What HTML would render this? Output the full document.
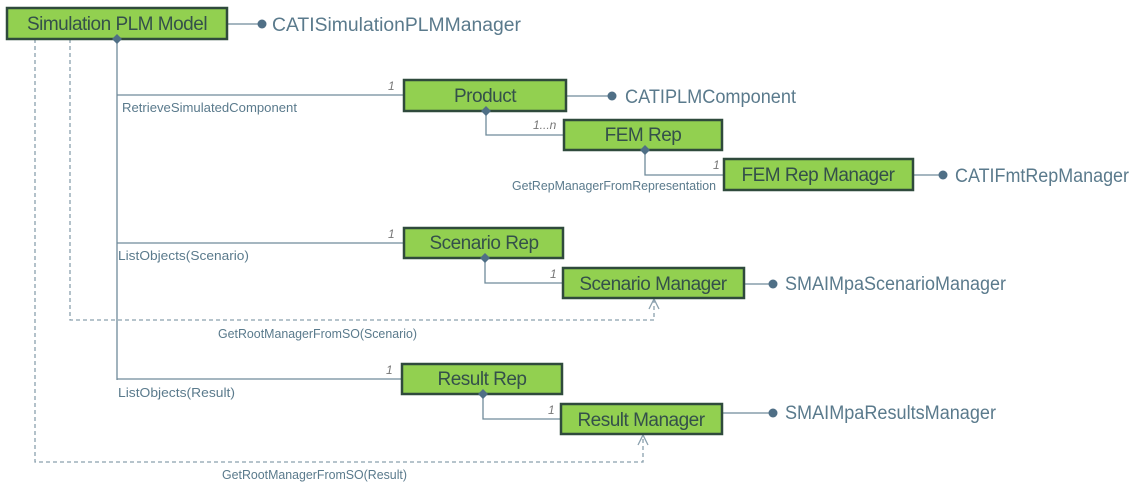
<!DOCTYPE html>
<html><head><meta charset="utf-8"><style>
html,body{margin:0;padding:0;background:#fff;}
svg{display:block;}
.b{fill:#92d050;stroke:#2f4a3c;stroke-width:2.5;}
.bt{font-family:"Liberation Sans",sans-serif;font-size:19px;fill:#34504a;text-anchor:middle;letter-spacing:-0.5px;}
.it{font-family:"Liberation Sans",sans-serif;font-size:19px;fill:#5a7a8c;}
.lt{font-family:"Liberation Sans",sans-serif;font-size:13px;fill:#5a7a8c;}
.m{font-family:"Liberation Sans",sans-serif;font-size:12px;fill:#777;font-style:italic;}
.l{stroke:#6f8a9a;stroke-width:1.3;fill:none;}
.d{stroke:#8aa0ae;stroke-width:1.3;fill:none;stroke-dasharray:4 3;}
.dm{fill:#4f6f86;}
.dot{fill:#4f6f86;}
</style></head><body>
<svg width="1138" height="493" viewBox="0 0 1138 493">
<path class="l" d="M117 39V380M117 95H404M117 243H404M117 379H402"/>
<path class="l" d="M486 111V135H564M645 150V175H724M485 258V283H563M483 394V419H561"/>
<path class="l" d="M227 24H260M566 96H610M913 175H941M744 284H770M722 413H770"/>
<path class="d" d="M70 39V320H654V300M35 39V462H643V436"/>
<path class="l" style="stroke:#8aa0ae" d="M649 309L654 299L659 309M638 445L643 435L648 445"/>
<circle class="dot" cx="262" cy="24" r="4.5"/>
<circle class="dot" cx="612" cy="96" r="4.5"/>
<circle class="dot" cx="943" cy="175" r="4.5"/>
<circle class="dot" cx="773" cy="284" r="4.5"/>
<circle class="dot" cx="773" cy="413" r="4.5"/>
<rect class="b" x="7" y="8" width="220" height="31"/>
<rect class="b" x="404" y="80" width="162" height="31"/>
<rect class="b" x="564" y="120" width="158" height="30"/>
<rect class="b" x="724" y="159" width="189" height="31"/>
<rect class="b" x="404" y="228" width="159" height="30"/>
<rect class="b" x="563" y="268" width="181" height="30"/>
<rect class="b" x="402" y="364" width="160" height="30"/>
<rect class="b" x="561" y="404" width="161" height="30"/>
<path class="dm" d="M117 34l5 5-5 5-5-5z M486 106l5 5-5 5-5-5z M645 145l5 5-5 5-5-5z M485 253l5 5-5 5-5-5z M483 389l5 5-5 5-5-5z"/>
<text class="bt" x="117" y="30">Simulation PLM Model</text>
<text class="bt" x="485" y="102">Product</text>
<text class="bt" x="643" y="141">FEM Rep</text>
<text class="bt" x="818" y="181">FEM Rep Manager</text>
<text class="bt" x="484" y="249">Scenario Rep</text>
<text class="bt" x="653" y="290">Scenario Manager</text>
<text class="bt" x="482" y="385">Result Rep</text>
<text class="bt" x="641" y="426">Result Manager</text>
<text class="it" x="272" y="31" textLength="249" lengthAdjust="spacingAndGlyphs">CATISimulationPLMManager</text>
<text class="it" x="625" y="103" textLength="171" lengthAdjust="spacingAndGlyphs">CATIPLMComponent</text>
<text class="it" x="955" y="182" textLength="174" lengthAdjust="spacingAndGlyphs">CATIFmtRepManager</text>
<text class="it" x="785" y="290" textLength="221" lengthAdjust="spacingAndGlyphs">SMAIMpaScenarioManager</text>
<text class="it" x="785" y="419" textLength="211" lengthAdjust="spacingAndGlyphs">SMAIMpaResultsManager</text>
<text class="lt" x="122" y="112" textLength="175" lengthAdjust="spacingAndGlyphs">RetrieveSimulatedComponent</text>
<text class="lt" x="512" y="190" textLength="204" lengthAdjust="spacingAndGlyphs">GetRepManagerFromRepresentation</text>
<text class="lt" x="118" y="260" textLength="131" lengthAdjust="spacingAndGlyphs">ListObjects(Scenario)</text>
<text class="lt" x="218" y="338" textLength="199" lengthAdjust="spacingAndGlyphs">GetRootManagerFromSO(Scenario)</text>
<text class="lt" x="118" y="397" textLength="117" lengthAdjust="spacingAndGlyphs">ListObjects(Result)</text>
<text class="lt" x="222" y="479" textLength="185" lengthAdjust="spacingAndGlyphs">GetRootManagerFromSO(Result)</text>
<text class="m" x="388" y="90">1</text>
<text class="m" x="533" y="129">1...n</text>
<text class="m" x="713" y="169">1</text>
<text class="m" x="388" y="238">1</text>
<text class="m" x="550" y="278">1</text>
<text class="m" x="386" y="374">1</text>
<text class="m" x="548" y="414">1</text>
</svg>
</body></html>
